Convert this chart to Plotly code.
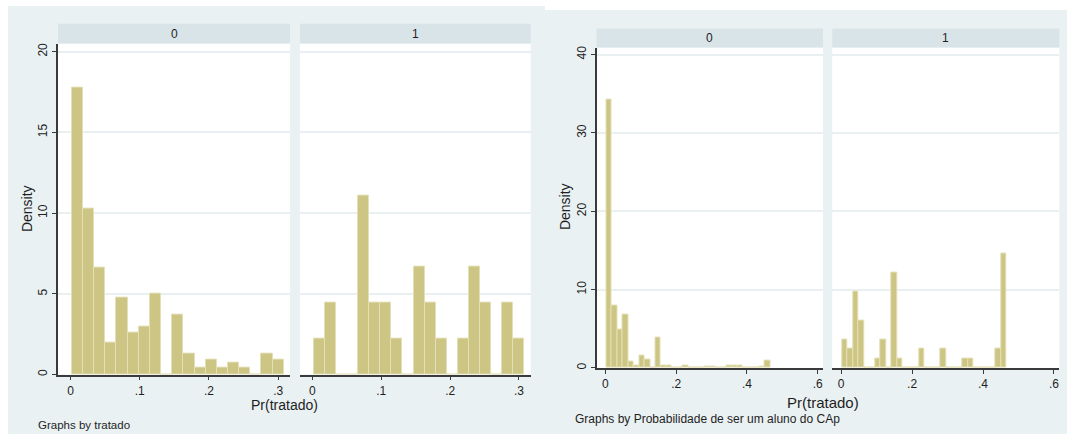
import numpy as np
import plotly.graph_objects as go

W, H = 1067, 436

# ---------------- data ----------------
# Left graph: histogram of Pr(tratado) by tratado (19 bins)
left_bin_start = 0.002
left_bin_width = 0.0161
left_density_0 = [17.8, 10.3, 6.6, 2.0, 4.75, 2.6, 3.0, 5.0, 0, 3.7,
                  1.3, 0.4, 0.95, 0.4, 0.75, 0.4, 0, 1.3, 0.95]
left_density_1 = [2.22, 4.44, 0, 0, 11.1, 4.44, 4.44, 2.22, 0, 6.66,
                  4.44, 2.22, 0, 2.22, 6.66, 4.44, 0, 4.44, 2.22]

# Right graph: histogram of Pr(tratado) by Probabilidade de ser um aluno do CAp (30 bins)
right_bin_start = 0.0028
right_bin_width = 0.01544
right_density_0 = [34.3, 7.9, 4.9, 6.8, 0.8, 0.35, 1.6, 1.1, 0, 3.85,
                   0.3, 0.3, 0, 0, 0.3, 0, 0, 0, 0.15, 0.15,
                   0, 0, 0.3, 0.3, 0.3, 0, 0, 0, 0.15, 1.0]
right_density_1 = [3.66, 2.44, 9.76, 6.1, 0, 0, 1.22, 3.66, 0, 12.2,
                   1.22, 0, 0, 0, 2.44, 0, 0, 0, 2.44, 0,
                   0, 0, 1.22, 1.22, 0, 0, 0, 0, 2.44, 14.64]

panel_labels = ["0", "1"]
left_xtick_vals = [0, 0.1, 0.2, 0.3]
left_xtick_text = ["0", ".1", ".2", ".3"]
left_ytick_vals = [0, 5, 10, 15, 20]
right_xtick_vals = [0, 0.2, 0.4, 0.6]
right_xtick_text = ["0", ".2", ".4", ".6"]
right_ytick_vals = [0, 10, 20, 30, 40]

x_title = "Pr(tratado)"
y_title = "Density"
left_note = "Graphs by tratado"
right_note = "Graphs by Probabilidade de ser um aluno do CAp"

# ---------------- style ----------------
BG = "#EAF1F3"
STRIP = "#D9E4E9"
GRID = "#E8F0F2"
BAR = "#CCC583"
BAR_EDGE = "#E4DFB6"
AXIS = "#3A3A3A"
TXT = "#1E1E1E"
FONT = "Liberation Sans, Arial, sans-serif"


def fx(p):
    return p / W


def fy(p):
    return 1 - p / H


def centers(start, width, n):
    return start + width * (np.arange(n) + 0.5)


fig = go.Figure()

# panel geometry in pixels: (x0, x1, ytop, ybottom)
panels = [
    dict(x0=58, x1=290, yt=42, yb=376, st=22),      # left 0
    dict(x0=300, x1=530.7, yt=42, yb=376, st=22),   # left 1
    dict(x0=596.5, x1=823, yt=46, yb=369.3, st=26.7),  # right 0
    dict(x0=832.3, x1=1059.3, yt=46, yb=369.3, st=26.7),  # right 1
]

series = [
    (left_density_0, left_bin_start, left_bin_width),
    (left_density_1, left_bin_start, left_bin_width),
    (right_density_0, right_bin_start, right_bin_width),
    (right_density_1, right_bin_start, right_bin_width),
]

for i, (dens, start, width) in enumerate(series):
    sfx = "" if i == 0 else str(i + 1)
    fig.add_trace(go.Bar(
        x=centers(start, width, len(dens)), y=dens, width=width,
        marker=dict(color=BAR, line=dict(color=BAR_EDGE, width=1)),
        xaxis="x" + sfx, yaxis="y" + sfx, showlegend=False,
        hoverinfo="x+y",
    ))

layout = dict(
    width=W, height=H, margin=dict(l=0, r=0, t=0, b=0),
    paper_bgcolor="white", plot_bgcolor="white",
    font=dict(family=FONT, color=TXT, size=12),
    bargap=0, showlegend=False,
)

shapes = [
    dict(type="rect", xref="paper", yref="paper", x0=fx(8), x1=fx(545),
         y0=fy(436), y1=fy(4), fillcolor=BG, line=dict(width=0), layer="below"),
    dict(type="rect", xref="paper", yref="paper", x0=fx(545), x1=fx(1067),
         y0=fy(436), y1=fy(8), fillcolor=BG, line=dict(width=0), layer="below"),
]
annotations = []

for i, p in enumerate(panels):
    sfx = "" if i == 0 else str(i + 1)
    left = i < 2
    first = i in (0, 2)
    xd = [fx(p["x0"]), fx(p["x1"])]
    yd = [fy(p["yb"]), fy(p["yt"])]
    # white plot region
    shapes.append(dict(type="rect", xref="paper", yref="paper",
                       x0=xd[0], x1=xd[1], y0=yd[0], y1=yd[1],
                       fillcolor="white", line=dict(width=0), layer="below"))
    # strip
    shapes.append(dict(type="rect", xref="paper", yref="paper",
                       x0=xd[0], x1=xd[1], y0=fy(p["yt"]), y1=fy(p["st"]),
                       fillcolor=STRIP, line=dict(width=0), layer="below"))
    annotations.append(dict(text=panel_labels[i % 2], xref="paper", yref="paper",
                            x=(xd[0] + xd[1]) / 2, y=fy((p["yt"] + p["st"]) / 2),
                            showarrow=False, xanchor="center", yanchor="middle",
                            font=dict(size=12, color=TXT)))
    xa = dict(
        domain=xd, anchor="y" + sfx,
        range=[-0.018, 0.317] if left else [-0.025, 0.615],
        tickvals=left_xtick_vals if left else right_xtick_vals,
        ticktext=left_xtick_text if left else right_xtick_text,
        showline=True, linecolor=AXIS, linewidth=1.5,
        ticks="outside", ticklen=4, tickwidth=1.2, tickcolor=AXIS,
        showgrid=False, zeroline=False, fixedrange=True,
        tickfont=dict(size=12, color=TXT),
    )
    ya = dict(
        domain=yd, anchor="x" + sfx,
        range=[0, 20.5] if left else [0, 40.9],
        tickvals=left_ytick_vals if left else right_ytick_vals,
        showgrid=True, gridcolor=GRID, gridwidth=1.5,
        zeroline=False, fixedrange=True,
        tickfont=dict(size=12, color=TXT),
    )
    if first:
        ya.update(showline=True, linecolor=AXIS, linewidth=1.5,
                  ticks="outside", ticklen=4, tickwidth=1.2, tickcolor=AXIS,
                  tickangle=-90, showticklabels=True)
    else:
        ya.update(showline=False, ticks="", showticklabels=False)
    layout["xaxis" + sfx] = xa
    layout["yaxis" + sfx] = ya

# axis titles and notes
annotations += [
    dict(text=y_title, xref="paper", yref="paper", x=fx(27), y=fy(209),
         textangle=-90, showarrow=False, xanchor="center", yanchor="middle",
         font=dict(size=14, color=TXT)),
    dict(text=y_title, xref="paper", yref="paper", x=fx(565), y=fy(207),
         textangle=-90, showarrow=False, xanchor="center", yanchor="middle",
         font=dict(size=14, color=TXT)),
    dict(text=x_title, xref="paper", yref="paper", x=fx(284.5), y=fy(406.5),
         showarrow=False, xanchor="center", yanchor="middle",
         font=dict(size=14, color=TXT)),
    dict(text=x_title, xref="paper", yref="paper", x=fx(823), y=fy(404.5),
         showarrow=False, xanchor="center", yanchor="middle",
         font=dict(size=15, color=TXT)),
    dict(text=left_note, xref="paper", yref="paper", x=fx(36), y=fy(427),
         showarrow=False, xanchor="left", yanchor="middle",
         font=dict(size=11.5, color=TXT)),
    dict(text=right_note, xref="paper", yref="paper", x=fx(573), y=fy(421),
         showarrow=False, xanchor="left", yanchor="middle",
         font=dict(size=12, color=TXT)),
]

layout["shapes"] = shapes
layout["annotations"] = annotations
fig.update_layout(**layout)

fig.write_html(
    "out.html",
    config={"displayModeBar": False},
    post_script="document.body.style.margin='0';document.body.style.padding='0';",
)
